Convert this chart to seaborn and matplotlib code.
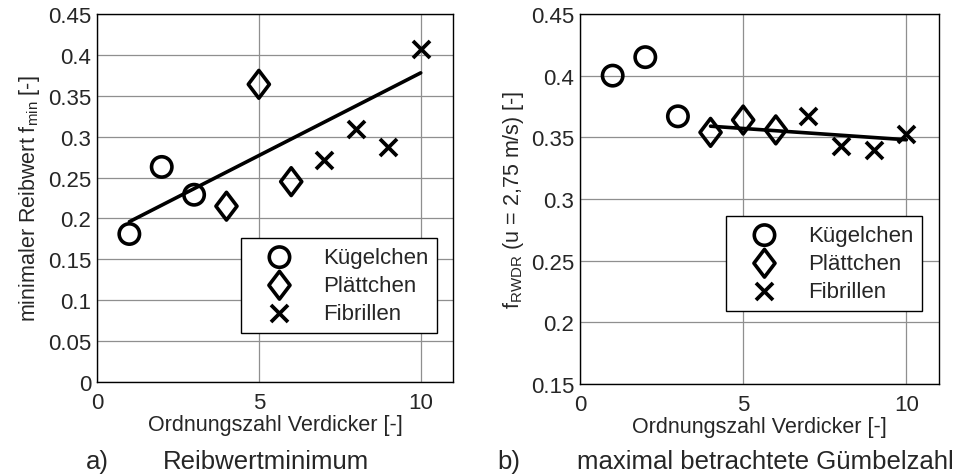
import numpy as np
import pandas as pd
import matplotlib
matplotlib.use("Agg")
import matplotlib.pyplot as plt
from matplotlib.markers import MarkerStyle
from matplotlib.transforms import Affine2D
import seaborn as sns

# ==========================
# DATA
# ==========================

groups = ["Kügelchen", "Plättchen", "Fibrillen"]

x_kug = [1, 2, 3]
x_pla = [4, 5, 6]
x_fib = [7, 8, 9, 10]

# a) Reibwertminimum
fmin_kug = [0.181, 0.263, 0.229]
fmin_pla = [0.215, 0.364, 0.245]
fmin_fib = [0.271, 0.309, 0.287, 0.407]
trend_a_x = [1, 10]
trend_a_y = [0.196, 0.378]

# b) maximal betrachtete Gümbelzahl
frwdr_kug = [0.400, 0.415, 0.367]
frwdr_pla = [0.354, 0.364, 0.356]
frwdr_fib = [0.367, 0.343, 0.340, 0.353]
trend_b_x = [4, 10]
trend_b_y = [0.359, 0.348]

xticks = [0, 5, 10]
yticks_a = [0, 0.05, 0.1, 0.15, 0.2, 0.25, 0.3, 0.35, 0.4, 0.45]
yticks_b = [0.15, 0.2, 0.25, 0.3, 0.35, 0.4, 0.45]

# ==========================
# STYLE
# ==========================

sns.set_style("whitegrid")
plt.rcParams["font.family"] = ["Liberation Sans", "DejaVu Sans"]

fig = plt.figure(figsize=(9.64, 4.77), dpi=100)
ax_a = fig.add_axes([0.1006, 0.197, 0.3694, 0.7716])
ax_b = fig.add_axes([0.6017, 0.193, 0.3723, 0.7756])

diamond = MarkerStyle("D", transform=Affine2D().scale(0.76, 1.0))
markers = {"Kügelchen": "o", "Plättchen": diamond, "Fibrillen": "x"}
sizes = {"Kügelchen": 215, "Plättchen": 200, "Fibrillen": 150}


def draw(ax, xs, ys, tx, ty, ylim, yticks, ylabel, leg_anchor):
    for name, x, y in zip(groups, xs, ys):
        df = pd.DataFrame({"x": x, "y": y})
        if name == "Fibrillen":
            sns.scatterplot(
                data=df, x="x", y="y", ax=ax,
                marker="x", color="black", s=sizes[name],
                linewidth=2.7, label=name, zorder=3
            )
        else:
            sns.scatterplot(
                data=df, x="x", y="y", ax=ax,
                marker=markers[name], facecolor="none",
                edgecolor="black", s=sizes[name],
                linewidth=2.6, label=name, zorder=3
            )

    sns.lineplot(x=tx, y=ty, ax=ax, color="black", linewidth=2.6, zorder=2)

    ax.set_xlim(0, 11)
    ax.set_ylim(*ylim)
    ax.set_xticks(xticks)
    ax.set_yticks(yticks)
    ax.set_yticklabels([f"{v:g}" for v in yticks])
    ax.tick_params(labelsize=16, length=0)
    ax.tick_params(axis="x", pad=7)
    ax.tick_params(axis="y", pad=4)
    ax.grid(True, color="#8f8f8f", linewidth=0.9)
    for sp in ax.spines.values():
        sp.set_color("black")
        sp.set_linewidth(1.0)

    ax.set_xlabel("Ordnungszahl Verdicker [-]", fontsize=15.5, labelpad=1)
    ax.set_ylabel(ylabel, fontsize=15.5, labelpad=4)

    leg = ax.legend(
        loc="lower right", bbox_to_anchor=leg_anchor, borderaxespad=0,
        fontsize=16, frameon=True, fancybox=False,
        edgecolor="black", framealpha=1, borderpad=0.4,
        handlelength=2.7, handletextpad=0.6, labelspacing=0.32,
        markerscale=1.0
    )
    leg.get_frame().set_linewidth(1.0)


draw(ax_a, [x_kug, x_pla, x_fib], [fmin_kug, fmin_pla, fmin_fib],
     trend_a_x, trend_a_y, (0, 0.45), yticks_a,
     r"minimaler Reibwert f$_{\mathregular{min}}$ [-]", (0.955, 0.133))

draw(ax_b, [x_kug, x_pla, x_fib], [frwdr_kug, frwdr_pla, frwdr_fib],
     trend_b_x, trend_b_y, (0.15, 0.45), yticks_b,
     r"f$_{\mathregular{RWDR}}$ (u = 2,75 m/s) [-]", (0.953, 0.197))

fig.text(0.089, 0.016, "a)", fontsize=18.5)
fig.text(0.169, 0.016, "Reibwertminimum", fontsize=18.5)
fig.text(0.5156, 0.016, "b)", fontsize=18.5)
fig.text(0.5985, 0.016, "maximal betrachtete Gümbelzahl", fontsize=18.5)

fig.savefig("out.png", dpi=100)
